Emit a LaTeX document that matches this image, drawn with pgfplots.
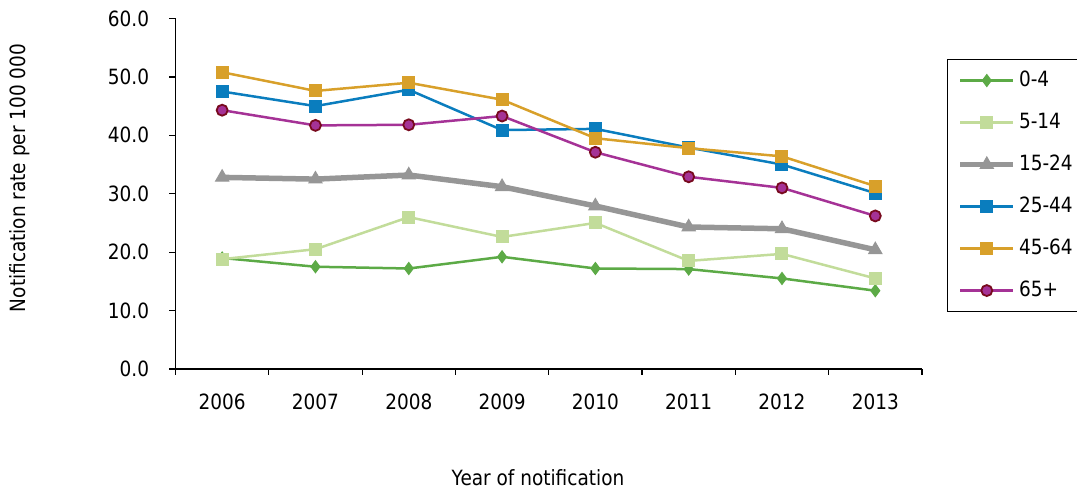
\documentclass[border=0pt]{standalone}
\usepackage{fontspec}
\setmainfont{DejaVu Sans}[FakeStretch=0.88]
\usepackage{pgfplots}
\pgfplotsset{compat=1.18}
\definecolor{cA}{RGB}{92,170,70}
\definecolor{cB}{RGB}{194,220,154}
\definecolor{cC}{RGB}{150,150,150}
\definecolor{cD}{RGB}{10,125,190}
\definecolor{cE}{RGB}{216,160,42}
\definecolor{cF}{RGB}{165,50,150}
\definecolor{cFb}{RGB}{120,10,30}
\begin{document}
\begin{tikzpicture}
\begin{axis}[
  scale only axis, width=373.25pt, height=175.25pt,
  xmin=-0.5, xmax=7.5, ymin=0, ymax=60,
  axis lines*=left,
  axis line style={black, line width=0.6pt},
  xtick={0,...,7},
  xticklabels={2006,2007,2008,2009,2010,2011,2012,2013},
  major x tick style={draw=none},
  minor xtick={-0.5,0.5,...,7.5},
  ytick={0,10,...,60},
  tick align=outside,
  major tick length=3pt, minor tick length=3pt,
  tick style={black, line width=0.6pt},
  /pgf/number format/assume math mode=true,
  yticklabel={\pgfmathprintnumber[fixed,fixed zerofill,precision=1]{\tick}},
  yticklabel style={anchor=east, inner sep=0pt, xshift=-10pt},
  xticklabel style={anchor=north, inner sep=0pt, yshift=-9.5pt},
  tick label style={font=\fontsize{10.5}{12}\selectfont},
  ylabel={Notification rate per 100 000},
  ylabel style={at={(axis description cs:-0.2083,0.545)}, anchor=center, rotate=0, font=\fontsize{10.5}{12}\selectfont},
  xlabel={Year of notification},
  xlabel style={at={(axis description cs:0.4856,-0.311)}, anchor=center, font=\fontsize{10.5}{12}\selectfont},
  legend style={at={(axis description cs:1.0335,0.8845)}, anchor=north west,
    draw=black, line width=0.6pt, font=\fontsize{10.5}{12}\selectfont,
    inner xsep=5pt, inner ysep=0pt, row sep=0pt,
    nodes={minimum height=21pt, inner xsep=1.5pt}},
  legend cell align=left,
  legend image code/.code={\draw[mark repeat=2,mark phase=2] plot coordinates {(0pt,0pt) (13.25pt,0pt) (26.5pt,0pt)};},
  clip=false,
]
\addplot[cA, line width=1.25pt, mark=diamond*, mark size=3pt, mark options={solid, fill=cA, line width=0.5pt}]
 coordinates {(0,19.0) (1,17.5) (2,17.2) (3,19.2) (4,17.2) (5,17.1) (6,15.5) (7,13.4)};
\addlegendentry{0-4}
\addplot[cB, line width=1.25pt, mark=square*, mark size=3pt, mark options={solid, fill=cB, line width=0.5pt}]
 coordinates {(0,18.8) (1,20.5) (2,26.0) (3,22.6) (4,25.0) (5,18.5) (6,19.7) (7,15.5)};
\addlegendentry{5-14}
\addplot[cC, line width=2.75pt, mark=triangle*, mark size=3.8pt, mark options={solid, fill=cC, line width=0.5pt}]
 coordinates {(0,32.8) (1,32.5) (2,33.2) (3,31.2) (4,27.9) (5,24.3) (6,24.0) (7,20.4)};
\addlegendentry{15-24}
\addplot[cD, line width=1.25pt, mark=square*, mark size=3pt, mark options={solid, fill=cD, line width=0.5pt}]
 coordinates {(0,47.5) (1,45.0) (2,47.8) (3,40.9) (4,41.1) (5,37.9) (6,35.0) (7,30.1)};
\addlegendentry{25-44}
\addplot[cE, line width=1.25pt, mark=square*, mark size=3pt, mark options={solid, fill=cE, line width=0.5pt}]
 coordinates {(0,50.8) (1,47.6) (2,49.0) (3,46.1) (4,39.5) (5,37.8) (6,36.4) (7,31.3)};
\addlegendentry{45-64}
\addplot[cF, line width=1.25pt, mark=*, mark size=2.75pt, mark options={solid, fill=cF, draw=cFb, line width=0.9pt}]
 coordinates {(0,44.3) (1,41.7) (2,41.8) (3,43.3) (4,37.1) (5,32.9) (6,31.0) (7,26.2)};
\addlegendentry{65+}
\coordinate (bbl) at (axis description cs:-0.2351,-0.3395);
\coordinate (btr) at (axis description cs:1.2077,1.0528);
\end{axis}
\pgfresetboundingbox
\path (bbl) rectangle (btr);
\end{tikzpicture}
\end{document}
